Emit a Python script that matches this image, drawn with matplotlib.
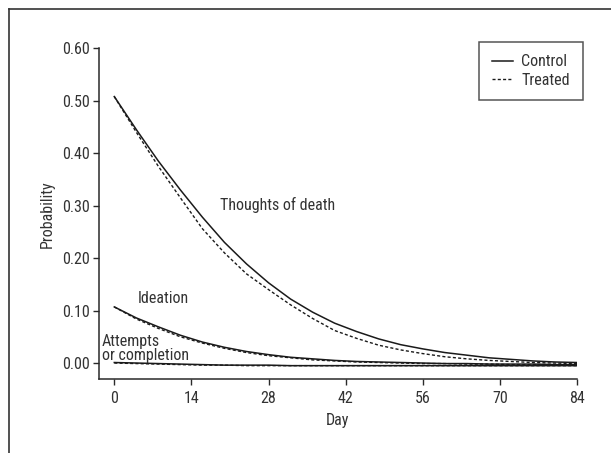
import matplotlib
matplotlib.use("Agg")
import matplotlib.pyplot as plt
from matplotlib import font_manager
from matplotlib.lines import Line2D

# ---- data ----
days = [0, 4, 8, 12, 16, 20, 24, 28, 32, 36, 40, 44, 48, 52, 56, 60, 64, 68, 72, 76, 80, 84]
thoughts_control = [0.508, 0.445, 0.385, 0.330, 0.278, 0.230, 0.189, 0.153, 0.122, 0.097, 0.076,
                    0.060, 0.046, 0.035, 0.027, 0.020, 0.015, 0.010, 0.007, 0.004, 0.002, 0.001]
thoughts_treated = [0.508, 0.440, 0.375, 0.315, 0.256, 0.210, 0.170, 0.140, 0.111, 0.085, 0.062,
                    0.047, 0.034, 0.025, 0.018, 0.012, 0.008, 0.005, 0.003, 0.001, 0.000, -0.001]
ideation_control = [0.107, 0.086, 0.069, 0.053, 0.040, 0.030, 0.022, 0.016, 0.011, 0.008, 0.005,
                    0.003, 0.002, 0.001, 0.000, -0.001, -0.001, -0.002, -0.002, -0.002, -0.003, -0.003]
ideation_treated = [0.107, 0.084, 0.066, 0.050, 0.038, 0.028, 0.020, 0.014, 0.010, 0.006, 0.004,
                    0.002, 0.001, 0.000, -0.001, -0.001, -0.002, -0.002, -0.003, -0.003, -0.003, -0.003]
attempts_control = [0.001, 0.000, -0.001, -0.002, -0.003, -0.004, -0.004, -0.004, -0.005, -0.005, -0.005,
                    -0.005, -0.005, -0.005, -0.005, -0.005, -0.005, -0.005, -0.005, -0.005, -0.005, -0.005]
attempts_treated = [0.000, -0.001, -0.002, -0.003, -0.004, -0.004, -0.005, -0.005, -0.005, -0.005, -0.005,
                    -0.005, -0.005, -0.005, -0.005, -0.005, -0.005, -0.005, -0.005, -0.005, -0.005, -0.005]
xticks = [0, 14, 28, 42, 56, 70, 84]
yticks = [0.0, 0.1, 0.2, 0.3, 0.4, 0.5, 0.6]
ytick_labels = ["0.00", "0.10", "0.20", "0.30", "0.40", "0.50", "0.60"]

# ---- font ----
names = {f.name for f in font_manager.fontManager.ttflist}
if "Roboto Condensed" in names:
    fam = ["Roboto Condensed", "DejaVu Sans"]
    stretch = "normal"
elif "Liberation Sans Narrow" in names:
    fam = ["Liberation Sans Narrow", "DejaVu Sans"]
    stretch = "normal"
else:
    fam = ["DejaVu Sans"]
    stretch = "condensed"
plt.rcParams["font.family"] = fam
plt.rcParams["font.stretch"] = stretch

TXT = "#333333"
LINE = "#1a1a1a"
FS = 11.5

W, H = 611, 453
fig = plt.figure(figsize=(W / 100, H / 100), dpi=100)
ax = fig.add_axes([98.7 / W, 1 - 379.3 / H, (577 - 98.7) / W, (379.3 - 48.3) / H])

solid = dict(color=LINE, lw=1.1, ls="-")
dashed = dict(color=LINE, lw=1.0, ls=(0, (2.2, 1.6)))

ax.plot(days, thoughts_control, **solid)
ax.plot(days, thoughts_treated, **dashed)
ax.plot(days, ideation_control, **solid)
ax.plot(days, ideation_treated, **dashed)
ax.plot(days, attempts_control, **solid)
ax.plot(days, attempts_treated, **dashed)

ax.set_xlim(-2.83, 84)
ax.set_ylim(-0.031, 0.60)
ax.set_xticks(xticks)
ax.set_yticks(yticks)
ax.set_yticklabels(ytick_labels)
for s in ["top", "right"]:
    ax.spines[s].set_visible(False)
for s in ["left", "bottom"]:
    ax.spines[s].set_color("#2a2a2a")
    ax.spines[s].set_linewidth(1.1)
ax.tick_params(axis="both", direction="out", length=4, width=1, color="#2a2a2a",
               labelsize=FS, labelcolor=TXT)
ax.tick_params(axis="y", pad=2.5)
ax.tick_params(axis="x", pad=4.5)
ax.set_xlabel("Day", fontsize=FS, color=TXT, labelpad=5)
ax.set_ylabel("Probability", fontsize=FS, color=TXT, labelpad=5)

ax.text(19.2, 0.301, "Thoughts of death", fontsize=FS, color=TXT, ha="left", va="center")
ax.text(4.25, 0.123, "Ideation", fontsize=FS, color=TXT, ha="left", va="center")
ax.text(-2.3, 0.028, "Attempts\nor completion", fontsize=FS, color=TXT, ha="left",
        va="center", linespacing=0.95)

handles = [Line2D([], [], **solid), Line2D([], [], **dashed)]
leg = fig.legend(handles, ["Control", "Treated"], loc="upper right",
                 bbox_to_anchor=(582.7 / W, 1 - 41.7 / H), bbox_transform=fig.transFigure,
                 fontsize=FS, frameon=True, fancybox=False, handlelength=1.35,
                 handletextpad=0.5, borderpad=0.8, labelspacing=0.2, borderaxespad=0)
leg.get_frame().set_edgecolor("#2a2a2a")
leg.get_frame().set_linewidth(1.1)
for t in leg.get_texts():
    t.set_color(TXT)

# outer frame (left and top edges)
fig.add_artist(Line2D([9 / W, 9 / W], [0, 1 - 9.3 / H], transform=fig.transFigure,
                      color="#333333", lw=1.2))
fig.add_artist(Line2D([9 / W, 1], [1 - 9.3 / H, 1 - 9.3 / H], transform=fig.transFigure,
                      color="#333333", lw=1.2))

fig.savefig("out.png", dpi=100)
